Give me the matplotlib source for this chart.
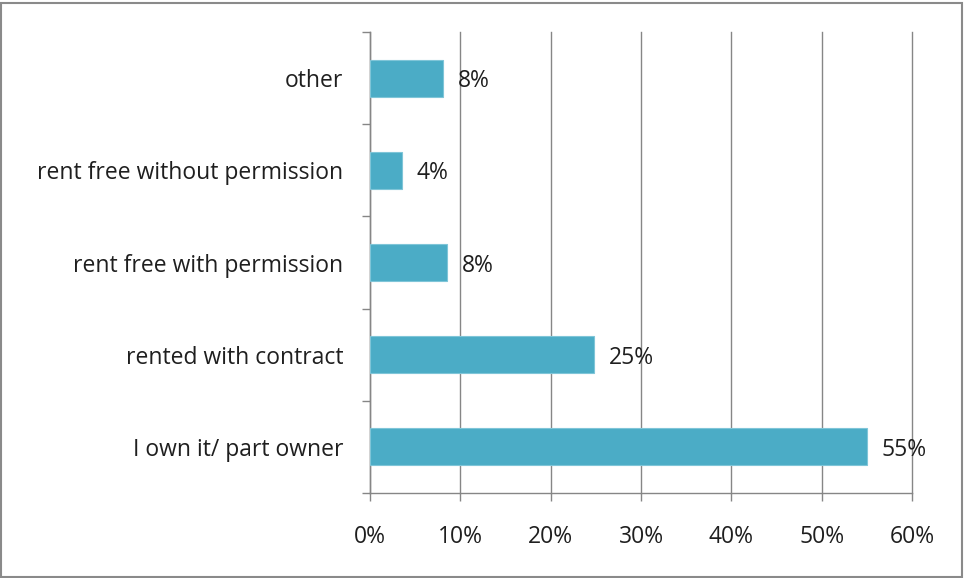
import matplotlib
matplotlib.use("Agg")
import matplotlib.pyplot as plt
from matplotlib.patches import Rectangle

categories = ["I own it/ part owner", "rented with contract", "rent free with permission",
              "rent free without permission", "other"]
values = [55.0, 24.8, 8.5, 3.5, 8.1]
labels = ["55%", "25%", "8%", "4%", "8%"]
xticks = [0, 10, 20, 30, 40, 50, 60]
xticklabels = ["0%", "10%", "20%", "30%", "40%", "50%", "60%"]

plt.rcParams['font.family'] = ['Open Sans', 'DejaVu Sans']

fig = plt.figure(figsize=(9.65, 5.78), dpi=100)
ax = fig.add_axes([370/965, 1-493/578, (912-370)/965, (493-32)/578])

grid_c = "#868686"
txt_c = "#1f1f1f"
fs = 16.5
ypos = list(range(len(categories)))
ax.barh(ypos, values, height=0.4, color="#4BACC6", edgecolor="#7FC5D8", linewidth=0.8, zorder=3)
for y, v, l in zip(ypos, values, labels):
    ax.annotate(l, (v, y), xytext=(15, 0), textcoords="offset pixels",
                va="center_baseline", ha="left", fontsize=fs, color=txt_c, zorder=4)

ax.set_xlim(0, 60)
ax.set_ylim(-0.5, len(categories) - 0.5)
ax.set_xticks(xticks)
ax.set_xticklabels(xticklabels, fontsize=fs, color=txt_c)
ax.set_yticks(ypos)
ax.set_yticklabels(categories, fontsize=fs, color=txt_c)
ax.set_yticks([i - 0.5 for i in range(len(categories) + 1)], minor=True)
ax.tick_params(axis="y", which="major", length=0, pad=19)
ax.tick_params(axis="y", which="minor", length=5.8, color=grid_c, width=1)
ax.tick_params(axis="x", which="major", length=5.8, color=grid_c, width=1, pad=17)
ax.xaxis.grid(True, color=grid_c, linewidth=1)
for gl in ax.xaxis.get_gridlines():
    gl.set_clip_on(False)
ax.set_axisbelow(True)
for s in ["top", "right"]:
    ax.spines[s].set_visible(False)
for s in ["left", "bottom"]:
    ax.spines[s].set_color(grid_c)
    ax.spines[s].set_linewidth(1)

fig.patches.append(Rectangle((0.001, 0.001), 0.996, 0.993, transform=fig.transFigure,
                             fill=False, edgecolor="#8a8a8a", linewidth=1.5))

fig.savefig("out.png", dpi=100)
